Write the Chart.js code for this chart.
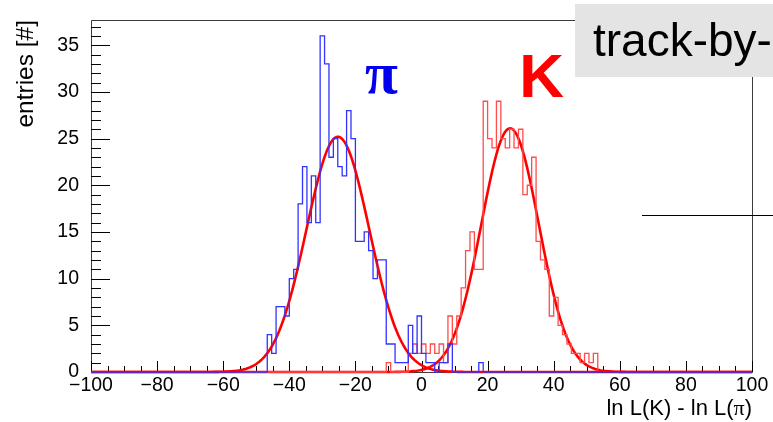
<!DOCTYPE html>
<html>
<head>
<meta charset="utf-8">
<script src="https://cdn.jsdelivr.net/npm/chart.js@4.4.1/dist/chart.umd.min.js"></script>
<style>
  html, body { margin: 0; padding: 0; background: #ffffff; }
  #wrap { width: 773px; height: 422px; position: relative; }
</style>
</head>
<body>
<div id="wrap"><canvas id="c"></canvas></div>
<script>
// Histogram binning: 150 bins over ln L(K) - ln L(pi) in [-100, 100]
const xRange = [-100, 100];
const nBins = 150;
const yMax = 37.7;
const xTickStep = 20;
const yTickStep = 5;

// Pion sample: bin contents starting at bin index pionFirstBin
const pionFirstBin = 40;
const pionCounts = [0, 4, 2, 7, 7, 6, 10, 11, 18, 22, 16, 21, 16, 36, 33, 23, 25, 22, 21, 28,
                    25, 14, 14, 15, 13, 10, 12, 12, 3, 3, 1, 1, 1, 5, 2, 6, 2, 1, 1, 0,
                    1, 1, 3, 0, 0, 0, 0, 0, 0, 1, 0];

// Kaon sample: bin contents starting at bin index kaonFirstBin
const kaonFirstBin = 67;
const kaonCounts = [0, 1, 0, 0, 0, 0, 2, 3, 2, 3, 2, 3, 2, 3, 1, 6, 3, 6, 9, 13,
                    15, 11, 11, 29, 25, 24, 29, 25, 24, 26, 24, 26, 19, 20, 23, 14, 12, 11, 6, 8,
                    5, 4, 3, 2, 2, 1, 2, 1, 2, 0];

// Gaussian fit parameters
const pionFit = { amp: 25.2, mean: -25.3, sigma: 9.5 };
const kaonFit = { amp: 26.1, mean: 26.8, sigma: 8.7 };

const SANS = "'Liberation Sans', Arial, sans-serif";
const SERIF = "'Liberation Serif', 'Times New Roman', serif";

function histPoints(firstBin, counts) {
  const w = (xRange[1] - xRange[0]) / nBins;
  const pts = [];
  for (let k = 0; k < nBins; k++) {
    const i = k - firstBin;
    const c = (i >= 0 && i < counts.length) ? counts[i] : 0;
    pts.push({ x: xRange[0] + k * w, y: c });
  }
  pts.push({ x: xRange[1], y: 0 });
  return pts;
}

function fitPoints(p) {
  const pts = [];
  for (let x = xRange[0]; x <= xRange[1] + 1e-9; x += 0.5) {
    const d = (x - p.mean) / p.sigma;
    pts.push({ x: x, y: p.amp * Math.exp(-0.5 * d * d) });
  }
  return pts;
}

const fmt = v => (v < 0 ? '\u2212' + Math.abs(v) : String(v));

// Frame and inward tick marks in ROOT style
const framePlugin = {
  id: 'frame',
  beforeDatasetsDraw(chart) {
    const { ctx, chartArea: a, scales } = chart;
    const xs = scales.x, ys = scales.y;
    ctx.save();
    ctx.strokeStyle = '#3c3c3c';
    ctx.lineWidth = 1;
    ctx.beginPath();
    ctx.rect(Math.round(a.left) + 0.5, Math.round(a.top) + 0.5,
             Math.round(a.right - a.left), Math.round(a.bottom - a.top));
    ctx.stroke();
    ctx.strokeStyle = '#000';
    ctx.beginPath();
    for (let v = 0; v <= Math.floor(yMax); v++) {
      const y = Math.round(ys.getPixelForValue(v)) + 0.5;
      const len = v % yTickStep === 0 ? 19 : 10;
      ctx.moveTo(a.left, y); ctx.lineTo(a.left + len, y);
    }
    for (let v = xRange[0]; v <= xRange[1]; v += 5) {
      const x = Math.round(xs.getPixelForValue(v)) + 0.5;
      const len = v % xTickStep === 0 ? 11 : 6;
      ctx.moveTo(x, a.bottom); ctx.lineTo(x, a.bottom - len);
    }
    ctx.stroke();
    ctx.restore();
  },
  afterDraw(chart) {
    const { ctx, scales } = chart;
    const xs = scales.x, ys = scales.y;
    ctx.save();
    // species labels
    ctx.textBaseline = 'alphabetic';
    ctx.textAlign = 'left';
    ctx.fillStyle = '#0000ee';
    ctx.font = 'bold 60px ' + SERIF;
    ctx.fillText('\u03C0', xs.getPixelForValue(-17.1), ys.getPixelForValue(29.9));
    ctx.fillStyle = '#ff0000';
    ctx.font = 'bold 62px ' + SANS;
    ctx.fillText('K', xs.getPixelForValue(29.6), ys.getPixelForValue(29.4));

    // method box
    ctx.fillStyle = '#e4e4e4';
    ctx.fillRect(575, 4, 198, 73);
    ctx.fillStyle = '#000';
    ctx.font = '46px ' + SANS;
    ctx.fillText('track-by-', 593, 56);

    // cross line
    ctx.strokeStyle = '#000';
    ctx.lineWidth = 1;
    ctx.beginPath();
    ctx.moveTo(642, 215.5); ctx.lineTo(773, 215.5);
    ctx.stroke();

    // x-axis title with serif pi
    const partA = 'ln L(K) - ln L(';
    const partC = ')';
    ctx.font = '22px ' + SERIF;
    const wPi = ctx.measureText('\u03C0').width;
    ctx.font = '22px ' + SANS;
    const wA = ctx.measureText(partA).width;
    const wC = ctx.measureText(partC).width;
    const right = 752;
    const base = 415;
    const x0 = right - (wA + wPi + wC);
    ctx.fillText(partA, x0, base);
    ctx.font = '22px ' + SERIF;
    ctx.fillText('\u03C0', x0 + wA, base);
    ctx.font = '22px ' + SANS;
    ctx.fillText(partC, x0 + wA + wPi, base);

    // y-axis title
    ctx.translate(33, 20);
    ctx.rotate(-Math.PI / 2);
    ctx.textAlign = 'right';
    ctx.font = '24.5px ' + SANS;
    ctx.fillText('entries [#]', 0, 0);
    ctx.restore();
  }
};

new Chart(document.getElementById('c'), {
  type: 'line',
  data: {
    datasets: [
      { label: 'pi', data: histPoints(pionFirstBin, pionCounts), stepped: 'after',
        borderColor: '#3333ff', borderWidth: 1.3, pointRadius: 0, fill: false, clip: 3 },
      { label: 'pi fit', data: fitPoints(pionFit),
        borderColor: '#ff0000', borderWidth: 2.6, pointRadius: 0, fill: false, tension: 0, clip: 3 },
      { label: 'K', data: histPoints(kaonFirstBin, kaonCounts), stepped: 'after',
        borderColor: '#ff4c4c', borderWidth: 1.3, pointRadius: 0, fill: false, clip: 3 },
      { label: 'K fit', data: fitPoints(kaonFit),
        borderColor: '#ff0000', borderWidth: 2.6, pointRadius: 0, fill: false, tension: 0, clip: 3 }
    ]
  },
  options: {
    responsive: true,
    maintainAspectRatio: false,
    animation: false,
    events: [],
    layout: { padding: { left: 0, right: 21, top: 20, bottom: 0 } },
    plugins: { legend: { display: false }, tooltip: { enabled: false } },
    scales: {
      x: {
        type: 'linear', min: xRange[0], max: xRange[1],
        grid: { display: false }, border: { display: false },
        ticks: { stepSize: xTickStep, color: '#000', padding: -6, maxRotation: 0, autoSkip: false,
                 font: { family: SANS, size: 19.5 }, callback: v => fmt(v) },
        afterFit: s => { s.height = 50; }
      },
      y: {
        type: 'linear', min: 0, max: yMax,
        grid: { display: false }, border: { display: false },
        ticks: { stepSize: yTickStep, includeBounds: false, color: '#000', padding: 4,
                 font: { family: SANS, size: 19.5 }, callback: v => fmt(v) },
        afterFit: s => { s.width = 91; }
      }
    }
  },
  plugins: [framePlugin]
});
</script>
</body>
</html>
